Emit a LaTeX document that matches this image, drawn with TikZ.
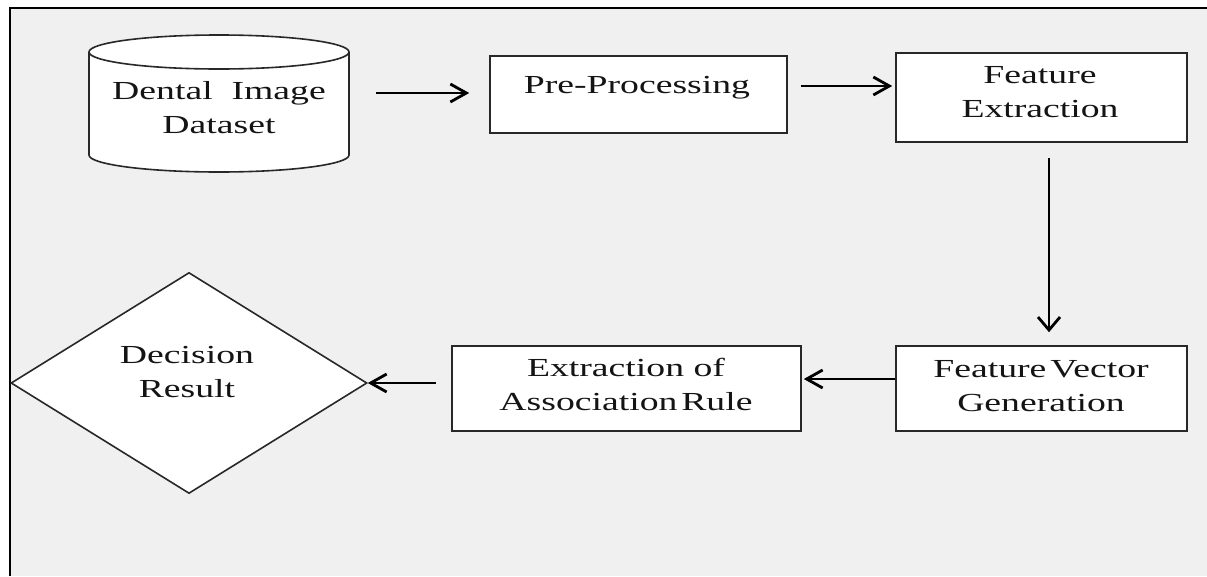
\documentclass[tikz,border=0pt]{standalone}
\usepackage{fontspec}
\setmainfont[FakeStretch=1.45]{Liberation Serif}
\usetikzlibrary{arrows.meta,shapes.geometric}
\definecolor{bggrey}{RGB}{240,240,240}
\definecolor{edgec}{RGB}{40,40,40}
\definecolor{textc}{RGB}{20,20,20}
\begin{document}
\begin{tikzpicture}[x=1pt,y=-1pt,
  shp/.style={draw=edgec, line width=1.6pt, fill=white},
  boxnode/.style={shp, rectangle, inner sep=0pt},
  txt/.style={anchor=base, inner sep=0pt, text=textc, font=\fontsize{26}{34}\selectfont},
  harr/.style={line width=2.8pt, -{Straight Barb[length=16pt,width=18pt]}},
  varr/.style={line width=2.8pt, -{Straight Barb[length=13pt,width=22pt]}}]
\useasboundingbox (0,0) rectangle (1207,576);
\fill[white] (0,0) rectangle (1207,576);
\fill[bggrey] (10,8) rectangle (1207,576);
\draw[line width=2pt, black] (10,576) -- (10,8) -- (1207,8);

% cylinder
\node[minimum width=260pt, minimum height=137pt, inner sep=0pt] (cyl) at (219,103.5) {};
\filldraw[shp] (89,52) -- (89,155) arc[start angle=180, end angle=360, x radius=130pt, y radius=17pt]
  -- (349,52) arc[start angle=0, end angle=180, x radius=130pt, y radius=17pt] -- cycle;
\draw[draw=edgec, line width=1.6pt] (89,52) arc[start angle=180, end angle=360, x radius=130pt, y radius=17pt];
\node[txt] (tcyl) at (219,99) {\begin{tabular}[t]{@{}c@{}}Dental~ Image\\Dataset\end{tabular}};

% boxes
\node[boxnode, minimum width=297pt, minimum height=77pt] (pre) at (638.5,94.5) {};
\node[txt] (tpre) at (637,93) {Pre-Processing};

\node[boxnode, minimum width=291pt, minimum height=89pt] (fe) at (1041.5,97.5) {};
\node[txt] (tfe) at (1040,83) {\begin{tabular}[t]{@{}c@{}}Feature\\Extraction\end{tabular}};

\node[boxnode, minimum width=291pt, minimum height=85pt] (fvg) at (1041.5,388.5) {};
\node[txt] (tfvg) at (1041,377) {\begin{tabular}[t]{@{}c@{}}Feature\hspace{0.15em}Vector\\Generation\end{tabular}};

\node[boxnode, minimum width=349pt, minimum height=85pt] (ear) at (626.5,388.5) {};
\node[txt] (tear) at (626,376) {\begin{tabular}[t]{@{}c@{}}Extraction of\\Association\hspace{0.15em}Rule\end{tabular}};

% diamond
\node[shp, diamond, minimum width=356pt, minimum height=221pt, inner sep=0pt] (dia) at (189,383) {};
\node[txt] (tdia) at (187,363) {\begin{tabular}[t]{@{}c@{}}Decision\\Result\end{tabular}};

% connectors
\draw[harr] ([xshift=27pt,yshift=10.5pt]cyl.east) -- ([xshift=-20pt,yshift=1.5pt]pre.west);
\draw[harr] ([xshift=13pt,yshift=8.5pt]pre.east) -- ([xshift=-3pt,yshift=11.5pt]fe.west);
\draw[varr] ([xshift=7.5pt,yshift=-15pt]fe.south) -- ([xshift=7.5pt,yshift=13pt]fvg.north);
\draw[harr] ([yshift=9.5pt]fvg.west) -- ([xshift=2pt,yshift=9.5pt]ear.east);
\draw[harr] ([xshift=-15pt,yshift=5.5pt]ear.west) -- (dia.east);
\end{tikzpicture}
\end{document}
